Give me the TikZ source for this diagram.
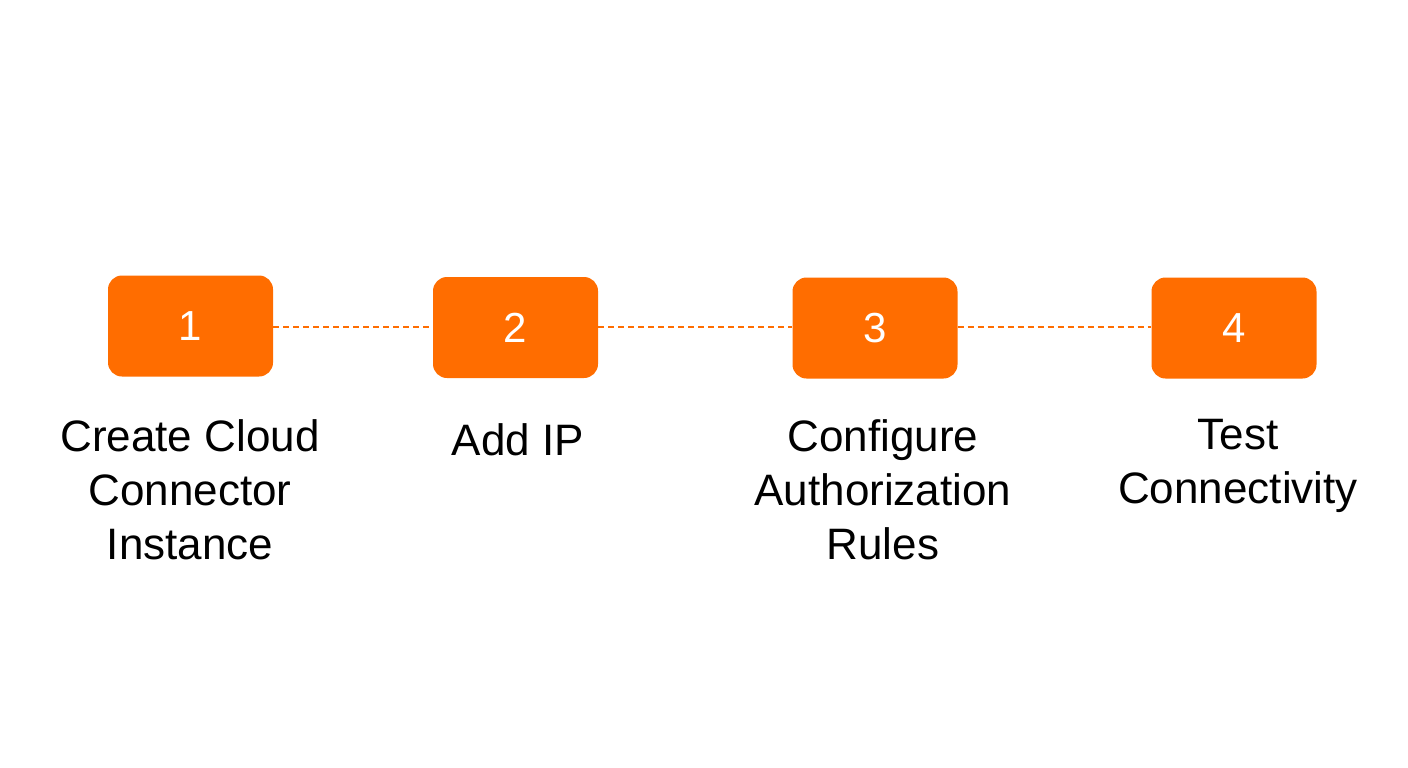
\documentclass[tikz,border=0pt]{standalone}
\usepackage{fontspec}
\setmainfont{Liberation Sans}
\definecolor{org}{HTML}{FF6D00}
\begin{document}
\begin{tikzpicture}[x=1pt,y=-1pt,
 stepbox/.style={fill=org,rounded corners=14pt,minimum width=165pt,minimum height=101pt,inner sep=0pt,text=white,font=\fontsize{42}{46}\selectfont},
 lbl/.style={align=center,font=\fontsize{44}{54}\selectfont,anchor=north},
 link/.style={org,dash pattern=on 6pt off 4pt,line width=1.2pt}]
\useasboundingbox (0,0) rectangle (1408,768);
\node[stepbox] (b1) at (190.5,326) {1};
\node[stepbox] (b2) at (515.5,327.5) {2};
\node[stepbox] (b3) at (875,328) {3};
\node[stepbox] (b4) at (1234,328) {4};
\draw[link] (b1.east|-0,327) -- (b2.west|-0,327);
\draw[link] (b2.east|-0,327) -- (b3.west|-0,327);
\draw[link] (b3.east|-0,327) -- (b4.west|-0,327);
\node[lbl] (l1) at (190,416) {Create Cloud\\Connector\\Instance};
\node[lbl] (l2) at (518,420) {Add IP};
\node[lbl] (l3) at (883,416) {Configure\\Authorization\\Rules};
\node[lbl] (l4) at (1238,416) {Test\\Connectivity};
\end{tikzpicture}
\end{document}
